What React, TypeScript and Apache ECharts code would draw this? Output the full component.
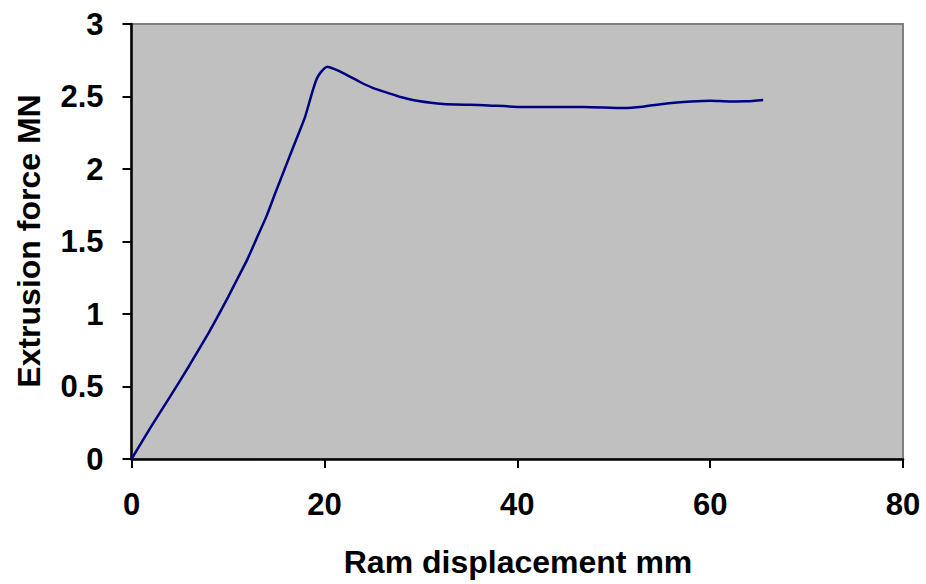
import React, { useEffect, useRef } from "react";
import * as echarts from "echarts";

const displacement = [0, 2, 4, 6, 8, 9, 10, 11, 12, 13, 14, 15, 16, 17, 18, 18.7, 19.2, 19.6, 20.3, 21, 22, 23.7, 25, 26.8, 28, 29.6, 32.3, 36.5, 40.6, 46.9, 51, 53, 55.5, 58, 60, 62, 63.8, 65.5];
const force = [0, 0.22, 0.43, 0.645, 0.87, 0.99, 1.115, 1.245, 1.375, 1.525, 1.675, 1.85, 2.02, 2.19, 2.36, 2.52, 2.62, 2.665, 2.705, 2.69, 2.66, 2.6, 2.56, 2.52, 2.495, 2.47, 2.448, 2.44, 2.428, 2.428, 2.421, 2.43, 2.452, 2.465, 2.471, 2.466, 2.467, 2.476];
const xTicks = [0, 20, 40, 60, 80];
const yTicks = [0, 0.5, 1, 1.5, 2, 2.5, 3];
const xTitle = "Ram displacement mm";
const yTitle = "Extrusion force MN";

export default function App() {
  const ref = useRef<HTMLDivElement>(null);
  useEffect(() => {
    if (!ref.current) return;
    const chart = echarts.init(ref.current, null, { renderer: "svg" });
    const font = "'Liberation Sans', Arial, sans-serif";
    chart.setOption({
      animation: false,
      backgroundColor: "#ffffff",
      grid: {
        left: 131.5,
        right: 23,
        top: 24,
        bottom: 125,
        show: true,
        backgroundColor: "#C0C0C0",
        borderColor: "#808080",
        borderWidth: 2,
      },
      xAxis: {
        type: "value",
        min: xTicks[0],
        max: xTicks[xTicks.length - 1],
        interval: 20,
        axisLine: { show: true, onZero: false, lineStyle: { color: "#000", width: 2.5 } },
        axisTick: { show: true, length: 9, lineStyle: { color: "#000", width: 2 } },
        splitLine: { show: false },
        axisLabel: {
          margin: 30,
          color: "#000",
          fontFamily: font,
          fontWeight: "bold",
          fontSize: 31,
          formatter: (v: number) => (xTicks.includes(v) ? String(v) : ""),
        },
      },
      yAxis: {
        type: "value",
        min: yTicks[0],
        max: yTicks[yTicks.length - 1],
        interval: 0.5,
        axisLine: { show: true, onZero: false, lineStyle: { color: "#000", width: 2.5 } },
        axisTick: { show: true, length: 9, lineStyle: { color: "#000", width: 2 } },
        splitLine: { show: false },
        axisLabel: {
          margin: 28,
          color: "#000",
          fontFamily: font,
          fontWeight: "bold",
          fontSize: 31,
          formatter: (v: number) => (yTicks.includes(v) ? String(v) : ""),
        },
      },
      graphic: [
        {
          type: "text",
          x: 518,
          y: 562,
          style: {
            text: xTitle,
            fill: "#000",
            font: `bold 32px ${font}`,
            textAlign: "center",
            textVerticalAlign: "middle",
          },
        },
        {
          type: "text",
          x: 29,
          y: 241,
          rotation: Math.PI / 2,
          style: {
            text: yTitle,
            fill: "#000",
            font: `bold 32px ${font}`,
            textAlign: "center",
            textVerticalAlign: "middle",
          },
        },
      ],
      series: [
        {
          type: "line",
          data: displacement.map((x, i) => [x, force[i]]),
          symbol: "none",
          smooth: 0.2,
          lineStyle: { color: "#000080", width: 2.5 },
        },
      ],
    });
    return () => chart.dispose();
  }, []);
  return <div ref={ref} style={{ position: "fixed", left: 0, top: 0, width: 926, height: 584 }} />;
}
